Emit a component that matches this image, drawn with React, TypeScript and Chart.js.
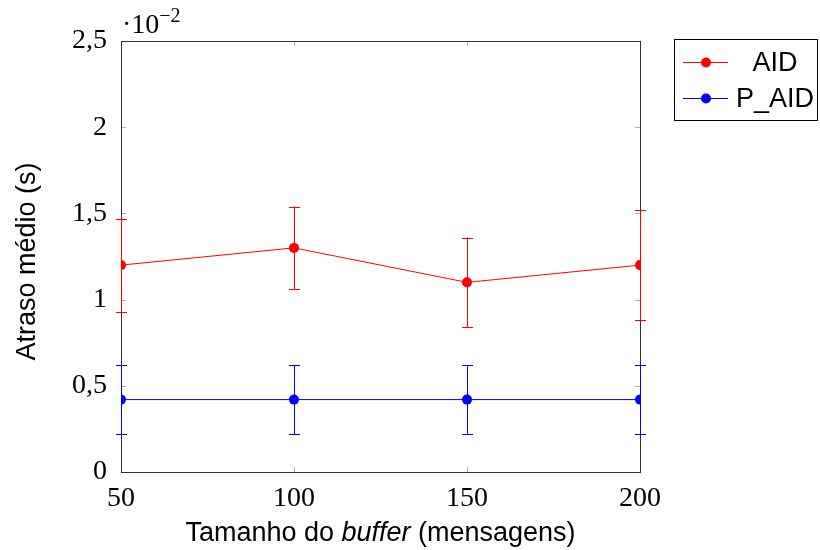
import React, { useEffect, useRef } from 'react';
import { Chart, registerables } from 'chart.js';
Chart.register(...registerables);

const bufferSizes = [50, 100, 150, 200];
const aidMeans = [1.2, 1.3, 1.1, 1.2];
const aidErrors = [0.27, 0.24, 0.26, 0.32];
const paidMeans = [0.42, 0.42, 0.42, 0.42];
const paidErrors = [0.2, 0.2, 0.2, 0.2];
const yTickValues = [0, 0.5, 1, 1.5, 2, 2.5];
const yTickLabels = ['0', '0,5', '1', '1,5', '2', '2,5'];
const xTickValues = [50, 100, 150, 200];
const seriesNames = ['AID', 'P_AID'];
const seriesColors = ['#ff0000', '#0000ff'];

const SERIF = '"Liberation Serif", "DejaVu Serif", serif';
const SANS = '"Liberation Sans", Arial, sans-serif';

const overlay = {
  id: 'overlay',
  beforeDatasetsDraw(chart: any) {
    const ctx = chart.ctx;
    const a = chart.chartArea;
    const xs = chart.scales.x;
    const ys = chart.scales.y;
    ctx.save();
    // ticks (inward)
    ctx.strokeStyle = '#b0b0b0';
    ctx.lineWidth = 1;
    ctx.beginPath();
    yTickValues.forEach((v) => {
      const py = Math.round(ys.getPixelForValue(v)) + 0.5;
      ctx.moveTo(a.left, py);
      ctx.lineTo(a.left + 5, py);
      ctx.moveTo(a.right, py);
      ctx.lineTo(a.right - 5, py);
    });
    xTickValues.forEach((v) => {
      const px = Math.round(xs.getPixelForValue(v)) + 0.5;
      ctx.moveTo(px, a.bottom);
      ctx.lineTo(px, a.bottom - 5);
      ctx.moveTo(px, a.top);
      ctx.lineTo(px, a.top + 5);
    });
    ctx.stroke();
    // frame
    ctx.strokeStyle = '#333333';
    ctx.lineWidth = 1;
    ctx.strokeRect(Math.round(a.left) + 0.5, Math.round(a.top) + 0.5, Math.round(a.right - a.left), Math.round(a.bottom - a.top));

    // error bars
    const sets = [
      { m: aidMeans, e: aidErrors, c: seriesColors[0] },
      { m: paidMeans, e: paidErrors, c: seriesColors[1] },
    ];
    ctx.lineWidth = 1;
    sets.forEach((s) => {
      ctx.strokeStyle = s.c;
      bufferSizes.forEach((xv, i) => {
        const px = Math.round(xs.getPixelForValue(xv)) + 0.5;
        const yt = ys.getPixelForValue(s.m[i] + s.e[i]);
        const yb = ys.getPixelForValue(s.m[i] - s.e[i]);
        ctx.beginPath();
        ctx.moveTo(px, yt);
        ctx.lineTo(px, yb);
        ctx.moveTo(px - 5.5, Math.round(yt) + 0.5);
        ctx.lineTo(px + 5.5, Math.round(yt) + 0.5);
        ctx.moveTo(px - 5.5, Math.round(yb) + 0.5);
        ctx.lineTo(px + 5.5, Math.round(yb) + 0.5);
        ctx.stroke();
      });
    });
    ctx.restore();
  },
  afterDraw(chart: any) {
    const ctx = chart.ctx;
    const a = chart.chartArea;
    ctx.save();
    // exponent label
    ctx.fillStyle = '#000';
    ctx.textBaseline = 'alphabetic';
    ctx.textAlign = 'left';
    ctx.font = `28px ${SERIF}`;
    ctx.fillText('·10', a.left + 1, 33);
    const w10 = ctx.measureText('·10').width;
    ctx.font = `20px ${SERIF}`;
    ctx.fillText('−2', a.left + 1 + w10, 22);

    // x title with italic part
    const parts = [
      { t: 'Tamanho do ', f: `27px ${SANS}` },
      { t: 'buffer', f: `italic 27px ${SANS}` },
      { t: ' (mensagens)', f: `27px ${SANS}` },
    ];
    let total = 0;
    parts.forEach((p) => {
      ctx.font = p.f;
      total += ctx.measureText(p.t).width;
    });
    let x0 = (a.left + a.right) / 2 - total / 2;
    parts.forEach((p) => {
      ctx.font = p.f;
      ctx.fillText(p.t, x0, 541);
      x0 += ctx.measureText(p.t).width;
    });

    // y title
    ctx.save();
    ctx.translate(35, (a.top + a.bottom) / 2 + 5);
    ctx.rotate(-Math.PI / 2);
    ctx.textAlign = 'center';
    ctx.font = `27px ${SANS}`;
    ctx.fillText('Atraso médio (s)', 0, 0);
    ctx.restore();

    // legend
    ctx.strokeStyle = '#000';
    ctx.lineWidth = 1;
    ctx.strokeRect(674.5, 39.5, 143, 81);
    const rows = [62, 98];
    const colCenter = 775;
    ctx.font = `27px ${SANS}`;
    seriesNames.forEach((name, i) => {
      const y = rows[i];
      ctx.strokeStyle = seriesColors[i];
      ctx.beginPath();
      ctx.moveTo(683, y + 0.5);
      ctx.lineTo(728, y + 0.5);
      ctx.stroke();
      ctx.fillStyle = seriesColors[i];
      ctx.beginPath();
      ctx.arc(706, y + 0.5, 5, 0, Math.PI * 2);
      ctx.fill();
      ctx.fillStyle = '#000';
      ctx.textAlign = 'center';
      ctx.textBaseline = 'middle';
      ctx.fillText(name, colCenter, y + 2);
    });
    ctx.restore();
  },
};

export default function App() {
  const ref = useRef<HTMLCanvasElement | null>(null);
  useEffect(() => {
    if (!ref.current) return;
    const chart = new Chart(ref.current, {
      type: 'line',
      data: {
        datasets: [
          {
            label: seriesNames[0],
            data: bufferSizes.map((x, i) => ({ x, y: aidMeans[i] })),
            borderColor: seriesColors[0],
            backgroundColor: seriesColors[0],
            borderWidth: 1,
            pointRadius: 5,
            pointHoverRadius: 5,
            pointBorderWidth: 0,
            tension: 0,
          },
          {
            label: seriesNames[1],
            data: bufferSizes.map((x, i) => ({ x, y: paidMeans[i] })),
            borderColor: seriesColors[1],
            backgroundColor: seriesColors[1],
            borderWidth: 1,
            pointRadius: 5,
            pointHoverRadius: 5,
            pointBorderWidth: 0,
            tension: 0,
          },
        ],
      },
      options: {
        animation: false,
        responsive: true,
        maintainAspectRatio: false,
        layout: { padding: { left: 0, top: 41, right: 180, bottom: 0 } },
        plugins: { legend: { display: false }, tooltip: { enabled: false } },
        scales: {
          x: {
            type: 'linear',
            min: 50,
            max: 200,
            grid: { display: false },
            border: { display: false },
            afterBuildTicks: (s: any) => {
              s.ticks = xTickValues.map((v) => ({ value: v }));
            },
            afterFit: (s: any) => {
              s.height = 78;
            },
            ticks: {
              color: '#000',
              font: { family: SERIF, size: 28 },
              padding: 2,
              maxRotation: 0,
              callback: (v: any) => String(v),
            },
          },
          y: {
            type: 'linear',
            min: 0,
            max: 2.5,
            grid: { display: false },
            border: { display: false },
            afterBuildTicks: (s: any) => {
              s.ticks = yTickValues.map((v) => ({ value: v }));
            },
            afterFit: (s: any) => {
              s.width = 121;
            },
            ticks: {
              color: '#000',
              font: { family: SERIF, size: 28 },
              padding: 6,
              callback: (v: any) => {
                const i = yTickValues.indexOf(Number(v));
                return i >= 0 ? yTickLabels[i] : '';
              },
            },
          },
        },
      },
      plugins: [overlay],
    });
    return () => chart.destroy();
  }, []);
  return (
    <div style={{ position: 'fixed', left: 0, top: 0, width: 820, height: 550, background: '#fff' }}>
      <canvas ref={ref} />
    </div>
  );
}
